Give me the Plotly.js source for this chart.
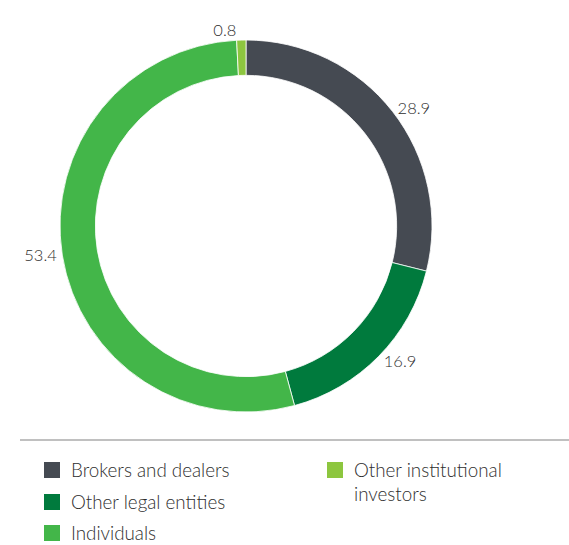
<!DOCTYPE html>
<html>
<head>
<meta charset="utf-8">
<script src="https://cdn.plot.ly/plotly-3.0.1.min.js"></script>
<style>
  html, body { margin: 0; padding: 0; background: #ffffff; }
  #chart { width: 569px; height: 545px; }
</style>
</head>
<body>
<div id="chart"></div>
<script>
// Data (clockwise from 12 o'clock)
const categories = ["Brokers and dealers", "Other legal entities", "Individuals", "Other institutional investors"];
const values = [28.9, 16.9, 53.4, 0.8];
const colors = ["#454a52", "#007a3d", "#43b649", "#8dc63f"];
// Legend layout: column/row placement and display text
const legendText = ["Brokers and dealers", "Other legal entities", "Individuals", "Other institutional<br>investors"];
const legendCol = [0, 0, 0, 1];
const legendRow = [0, 1, 2, 0];

const W = 569, H = 545;
const textColor = "#2e2e2e";
const font = "Lato, 'Open Sans', sans-serif";

const trace = {
  type: "pie",
  labels: categories,
  values: values,
  sort: false,
  direction: "clockwise",
  rotation: 0,
  hole: 0.81,
  marker: { colors: colors, line: { color: "#ffffff", width: 0.8 } },
  textinfo: "value",
  texttemplate: "%{value}",
  textposition: "outside",
  outsidetextfont: { family: font, size: 16.5, color: textColor, weight: 300 },
  showlegend: false,
  domain: { x: [60 / W, 432 / W], y: [1 - 412 / H, 1 - 40 / H] },
  hoverinfo: "label+value"
};

const shapes = [{
  type: "line", xref: "paper", yref: "paper",
  x0: 20 / W, x1: 1, y0: 1 - 440 / H, y1: 1 - 440 / H,
  line: { color: "#ababab", width: 1.5 }
}];
const annotations = [];
const colX = [44, 327];
const rowY = [470, 502, 533];
const legSize = 18.8;
categories.forEach((c, i) => {
  const x0 = colX[legendCol[i]];
  const yc = rowY[legendRow[i]];
  shapes.push({
    type: "rect", xref: "paper", yref: "paper",
    x0: x0 / W, x1: (x0 + 16) / W,
    y0: 1 - (yc + 8) / H, y1: 1 - (yc - 8) / H,
    fillcolor: colors[i], line: { width: 0 }
  });
  annotations.push({
    xref: "paper", yref: "paper",
    x: (x0 + 26) / W, y: 1 - (yc - 13) / H,
    xanchor: "left", yanchor: "top",
    align: "left", showarrow: false,
    borderpad: 0,
    text: legendText[i],
    font: { family: font, size: legSize, color: textColor, weight: 300 }
  });
});

const layout = {
  width: W, height: H,
  margin: { l: 0, r: 0, t: 0, b: 0 },
  paper_bgcolor: "#ffffff",
  plot_bgcolor: "#ffffff",
  showlegend: false,
  font: { family: font, color: textColor },
  shapes: shapes,
  annotations: annotations
};

Plotly.newPlot("chart", [trace], layout, { displayModeBar: false, staticPlot: true });
</script>
</body>
</html>
